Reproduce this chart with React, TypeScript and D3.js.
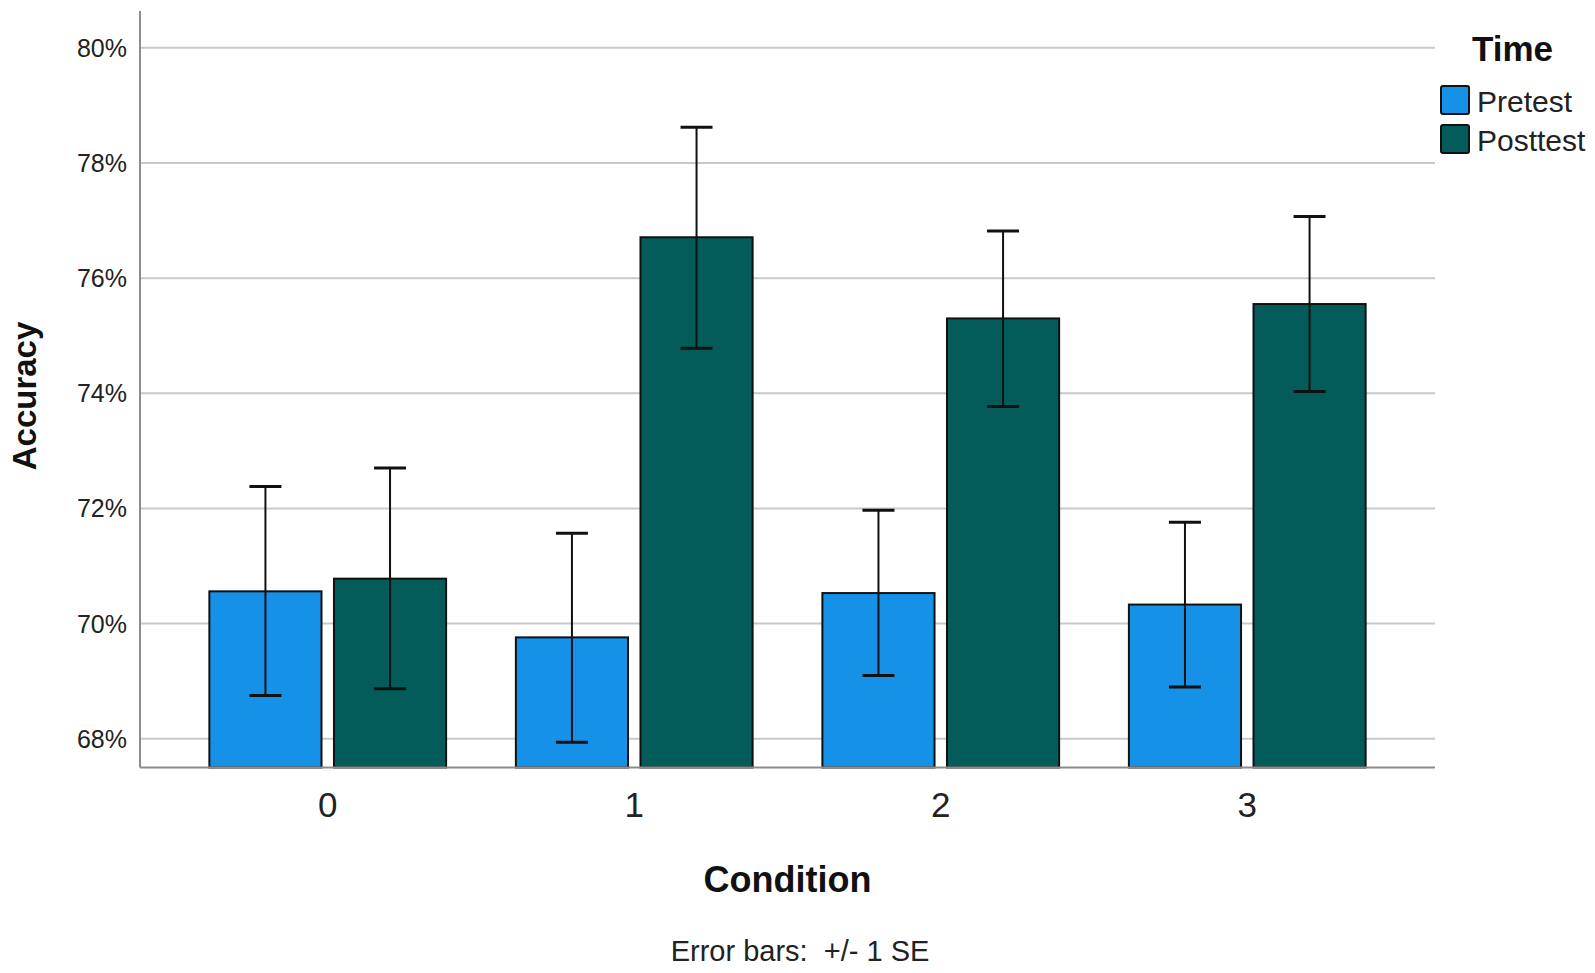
import React, { useEffect, useRef } from "react";
import * as d3 from "d3";

const conditions = ["0", "1", "2", "3"];
const times = ["Pretest", "Posttest"];

// accuracy means (%) and +/- 1 SE bounds
const pretestMean = [70.56, 69.76, 70.53, 70.33];
const pretestLow = [68.75, 67.94, 69.1, 68.9];
const pretestHigh = [72.38, 71.57, 71.97, 71.76];

const posttestMean = [70.78, 76.71, 75.3, 75.55];
const posttestLow = [68.87, 74.78, 73.77, 74.03];
const posttestHigh = [72.7, 78.62, 76.82, 77.07];

const yTicks = [68, 70, 72, 74, 76, 78, 80];

const colors: Record<string, string> = {
  Pretest: "#1591e8",
  Posttest: "#035c5a",
};

const FONT = "'Liberation Sans', Arial, sans-serif";

const App: React.FC = () => {
  const svgRef = useRef<SVGSVGElement>(null);

  useEffect(() => {
    if (!svgRef.current) return;

    const width = 1595;
    const height = 973;
    const plot = { left: 140, right: 1435, top: 11, bottom: 767.5 };

    const svg = d3.select(svgRef.current);
    svg.selectAll("*").remove();
    svg.attr("width", width).attr("height", height);

    svg.append("rect").attr("width", width).attr("height", height).attr("fill", "#fff");

    const x = d3
      .scaleBand()
      .domain(conditions)
      .range([plot.left, plot.right])
      .paddingInner(0)
      .paddingOuter(0.1125);

    const xInner = d3
      .scaleBand()
      .domain(times)
      .range([0, x.bandwidth()])
      .paddingInner(0.1)
      .paddingOuter(0.28);

    const y = d3.scaleLinear().domain([67.5, 80.64]).range([plot.bottom, plot.top]);

    // gridlines
    svg
      .append("g")
      .selectAll("line")
      .data(yTicks)
      .join("line")
      .attr("x1", plot.left)
      .attr("x2", plot.right)
      .attr("y1", (d) => y(d))
      .attr("y2", (d) => y(d))
      .attr("stroke", "#c9c9c9")
      .attr("stroke-width", 2);

    // y tick labels
    svg
      .append("g")
      .selectAll("text")
      .data(yTicks)
      .join("text")
      .attr("x", plot.left - 13)
      .attr("y", (d) => y(d) + 9)
      .attr("text-anchor", "end")
      .attr("font-family", FONT)
      .attr("font-size", 25)
      .attr("fill", "#222")
      .text((d) => `${d}%`);

    const rows = conditions.flatMap((c, i) => [
      { cond: c, time: "Pretest", mean: pretestMean[i], low: pretestLow[i], high: pretestHigh[i] },
      { cond: c, time: "Posttest", mean: posttestMean[i], low: posttestLow[i], high: posttestHigh[i] },
    ]);

    const bx = (d: { cond: string; time: string }) => (x(d.cond) || 0) + (xInner(d.time) || 0);

    // bars
    svg
      .append("g")
      .selectAll("rect")
      .data(rows)
      .join("rect")
      .attr("x", (d) => bx(d))
      .attr("width", xInner.bandwidth())
      .attr("y", (d) => y(d.mean))
      .attr("height", (d) => y(67.5) - y(d.mean))
      .attr("fill", (d) => colors[d.time])
      .attr("stroke", "#111")
      .attr("stroke-width", 2);

    // error bars
    const capHalf = 16;
    const err = svg.append("g").attr("stroke", "#111").attr("stroke-width", 2);
    rows.forEach((d) => {
      const cx = bx(d) + xInner.bandwidth() / 2;
      err.append("line").attr("x1", cx).attr("x2", cx).attr("y1", y(d.low)).attr("y2", y(d.high));
      err
        .append("line")
        .attr("x1", cx - capHalf)
        .attr("x2", cx + capHalf)
        .attr("y1", y(d.high))
        .attr("y2", y(d.high))
        .attr("stroke-width", 3);
      err
        .append("line")
        .attr("x1", cx - capHalf)
        .attr("x2", cx + capHalf)
        .attr("y1", y(d.low))
        .attr("y2", y(d.low))
        .attr("stroke-width", 3);
    });

    // axes lines
    svg
      .append("line")
      .attr("x1", plot.left)
      .attr("x2", plot.left)
      .attr("y1", plot.top)
      .attr("y2", plot.bottom)
      .attr("stroke", "#8c8c8c")
      .attr("stroke-width", 2);
    svg
      .append("line")
      .attr("x1", plot.left)
      .attr("x2", plot.right)
      .attr("y1", plot.bottom)
      .attr("y2", plot.bottom)
      .attr("stroke", "#8c8c8c")
      .attr("stroke-width", 2);

    // x tick labels
    svg
      .append("g")
      .selectAll("text")
      .data(conditions)
      .join("text")
      .attr("x", (d) => (x(d) || 0) + x.bandwidth() / 2)
      .attr("y", 817)
      .attr("text-anchor", "middle")
      .attr("font-family", FONT)
      .attr("font-size", 35)
      .attr("fill", "#222")
      .text((d) => d);

    // axis titles
    svg
      .append("text")
      .attr("x", (plot.left + plot.right) / 2)
      .attr("y", 892)
      .attr("text-anchor", "middle")
      .attr("font-family", FONT)
      .attr("font-size", 36)
      .attr("font-weight", "bold")
      .attr("fill", "#111")
      .text("Condition");

    svg
      .append("text")
      .attr("transform", `translate(36, 396) rotate(-90)`)
      .attr("text-anchor", "middle")
      .attr("font-family", FONT)
      .attr("font-size", 33)
      .attr("font-weight", "bold")
      .attr("fill", "#111")
      .text("Accuracy");

    svg
      .append("text")
      .attr("x", 800)
      .attr("y", 961)
      .attr("text-anchor", "middle")
      .attr("font-family", FONT)
      .attr("font-size", 29)
      .attr("fill", "#222")
      .style("white-space", "pre")
      .text("Error bars:  +/- 1 SE");

    // legend
    const legend = svg.append("g");
    legend
      .append("text")
      .attr("x", 1472)
      .attr("y", 61)
      .attr("font-family", FONT)
      .attr("font-size", 35)
      .attr("font-weight", "bold")
      .attr("fill", "#111")
      .text("Time");

    const items = legend
      .selectAll("g")
      .data(times)
      .join("g")
      .attr("transform", (_d, i) => `translate(1441, ${86 + i * 39})`);
    items
      .append("rect")
      .attr("width", 28)
      .attr("height", 28)
      .attr("rx", 2)
      .attr("fill", (d) => colors[d])
      .attr("stroke", "#111")
      .attr("stroke-width", 2);
    items
      .append("text")
      .attr("x", 36)
      .attr("y", 26)
      .attr("font-family", FONT)
      .attr("font-size", 30)
      .attr("fill", "#222")
      .text((d) => d);
  }, []);

  return <svg ref={svgRef} style={{ position: "absolute", left: 0, top: 0 }} />;
};

export default App;
